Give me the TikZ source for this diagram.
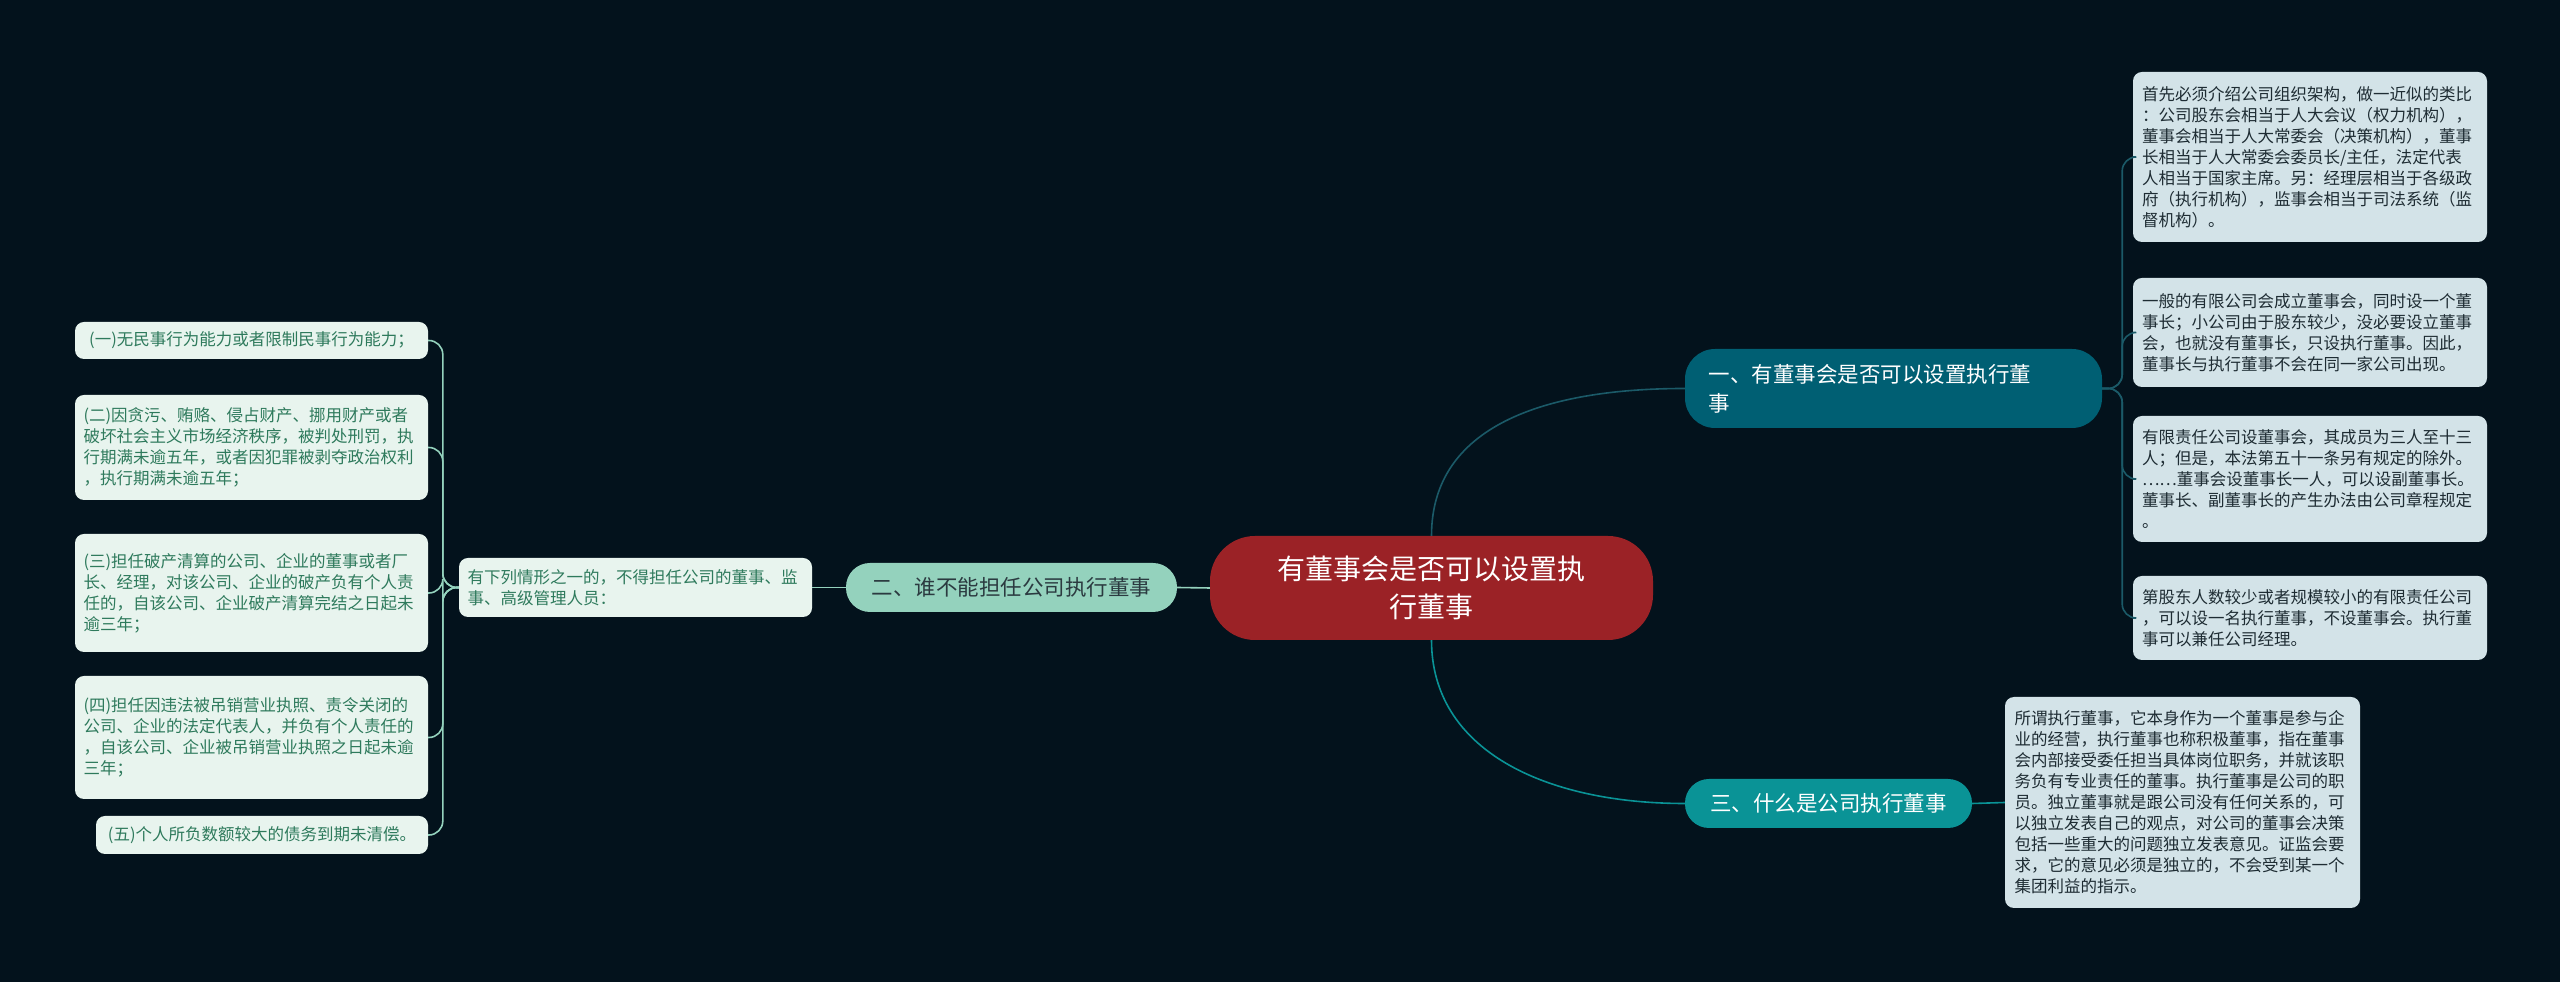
\documentclass[tikz,border=0pt]{standalone}
\usepackage{fontspec}
\setmainfont{Noto Sans CJK SC}
\begin{document}
\begin{tikzpicture}[x=1pt,y=1pt,
  base/.style={rounded corners=9pt,inner sep=0pt,align=left},
  rleaf/.style={base,fill=rleafc,text=rtext,font=\fontsize{16.5}{21}\selectfont},
  lleaf/.style={base,fill=lleafc,text=ltext,font=\fontsize{16.5}{21}\selectfont},
  rline/.style={draw=rlinec,line width=1.6pt},
  lline/.style={draw=llinec,line width=1.6pt},
  tline/.style={draw=tlinec,line width=1.6pt}]
\definecolor{bg}{HTML}{03121C}
\definecolor{rleafc}{HTML}{D3E3E8}
\definecolor{rtext}{HTML}{1E2C33}
\definecolor{lleafc}{HTML}{E8F4EE}
\definecolor{ltext}{HTML}{2E7A5C}
\definecolor{rlinec}{HTML}{1B5A68}
\definecolor{llinec}{HTML}{94D2BD}
\definecolor{tlinec}{HTML}{0A9396}
\definecolor{redc}{HTML}{9B2226}
\definecolor{b1c}{HTML}{005F73}
\definecolor{b2c}{HTML}{94D2BD}
\definecolor{b2t}{HTML}{2B3A40}
\definecolor{b3c}{HTML}{0A9396}
\fill[bg] (0,0) rectangle (2560,982);
\useasboundingbox (0,0) rectangle (2560,982);

% centre and branches
\node[base,fill=redc,text=white,minimum width=443pt,minimum height=104pt,rounded corners=45pt,align=center,font=\fontsize{28}{38}\selectfont] (c) at (1431.5,394) {有董事会是否可以设置执\\行董事};
\node[base,fill=b1c,text=white,minimum width=417pt,minimum height=79pt,rounded corners=30pt,text width=370pt,font=\fontsize{21.5}{29}\selectfont] (b1) at (1893.5,593.5) {一、有董事会是否可以设置执行董\\事};
\node[base,fill=b2c,text=b2t,minimum width=331pt,minimum height=49pt,rounded corners=24pt,align=center,font=\fontsize{21.5}{29}\selectfont] (b2) at (1011.5,394.5) {二、谁不能担任公司执行董事};
\node[base,fill=b3c,text=white,minimum width=287pt,minimum height=49pt,rounded corners=24pt,align=center,font=\fontsize{21.5}{29}\selectfont] (b3) at (1828.5,178.5) {三、什么是公司执行董事};

% right leaves
\node[rleaf,minimum height=170pt,text width=336pt,minimum width=354pt] (r1) at (2310,825) {首先必须介绍公司组织架构，做一近似的类比\\：公司股东会相当于人大会议（权力机构），\\董事会相当于人大常委会（决策机构），董事\\长相当于人大常委会委员长/主任，法定代表\\人相当于国家主席。另：经理层相当于各级政\\府（执行机构），监事会相当于司法系统（监\\督机构）。};
\node[rleaf,minimum height=109pt,text width=336pt,minimum width=354pt] (r2) at (2310,649.5) {一般的有限公司会成立董事会，同时设一个董\\事长；小公司由于股东较少，没必要设立董事\\会，也就没有董事长，只设执行董事。因此，\\董事长与执行董事不会在同一家公司出现。};
\node[rleaf,minimum height=126pt,text width=336pt,minimum width=354pt] (r3) at (2310,503) {有限责任公司设董事会，其成员为三人至十三\\人；但是，本法第五十一条另有规定的除外。\\……董事会设董事长一人，可以设副董事长。\\董事长、副董事长的产生办法由公司章程规定\\。};
\node[rleaf,minimum height=84pt,text width=336pt,minimum width=354pt] (r4) at (2310,364) {第股东人数较少或者规模较小的有限责任公司\\，可以设一名执行董事，不设董事会。执行董\\事可以兼任公司经理。};
\node[rleaf,minimum height=211pt,text width=336pt,minimum width=355pt] (r5) at (2182.5,179.5) {所谓执行董事，它本身作为一个董事是参与企\\业的经营，执行董事也称积极董事，指在董事\\会内部接受委任担当具体岗位职务，并就该职\\务负有专业责任的董事。执行董事是公司的职\\员。独立董事就是跟公司没有任何关系的，可\\以独立发表自己的观点，对公司的董事会决策\\包括一些重大的问题独立发表意见。证监会要\\求，它的意见必须是独立的，不会受到某一个\\集团利益的指示。};

% left leaves
\node[lleaf,minimum height=59pt,text width=336pt,minimum width=353pt] (lm) at (635.5,394.5) {有下列情形之一的，不得担任公司的董事、监\\事、高级管理人员：};
\node[lleaf,minimum height=37pt,minimum width=353pt,align=center] (l1) at (251.5,641.5) {(一)无民事行为能力或者限制民事行为能力；};
\node[lleaf,minimum height=105pt,text width=336pt,minimum width=353pt] (l2) at (251.5,534.5) {(二)因贪污、贿赂、侵占财产、挪用财产或者\\破坏社会主义市场经济秩序，被判处刑罚，执\\行期满未逾五年，或者因犯罪被剥夺政治权利\\，执行期满未逾五年；};
\node[lleaf,minimum height=118pt,text width=336pt,minimum width=353pt] (l3) at (251.5,389) {(三)担任破产清算的公司、企业的董事或者厂\\长、经理，对该公司、企业的破产负有个人责\\任的，自该公司、企业破产清算完结之日起未\\逾三年；};
\node[lleaf,minimum height=123pt,text width=336pt,minimum width=353pt] (l4) at (251.5,244.5) {(四)担任因违法被吊销营业执照、责令关闭的\\公司、企业的法定代表人，并负有个人责任的\\，自该公司、企业被吊销营业执照之日起未逾\\三年；};
\node[lleaf,minimum height=38pt,minimum width=332pt,align=center] (l5) at (262,147) {(五)个人所负数额较大的债务到期未清偿。};

% connectors
\draw[rline] (c.north) .. controls +(0,110) and +(-140,0) .. (b1.west);
\draw[tline] (c.south) .. controls +(0,-110) and +(-140,0) .. (b3.west);
\draw[lline] (c.west) -- (b2.east);
\draw[lline] (b2.west) -- (lm.east);
\foreach \n in {r1,r2,r3,r4}
  \draw[rline,rounded corners=14pt] (b1.east) -- ++(20,0) |- (\n.west);
\draw[tline] (b3.east) -- (r5.west);
\foreach \n in {l1,l2,l3,l4,l5}
  \draw[lline,rounded corners=14pt] (lm.west) -- ++(-16,0) |- (\n.east);
\end{tikzpicture}
\end{document}
